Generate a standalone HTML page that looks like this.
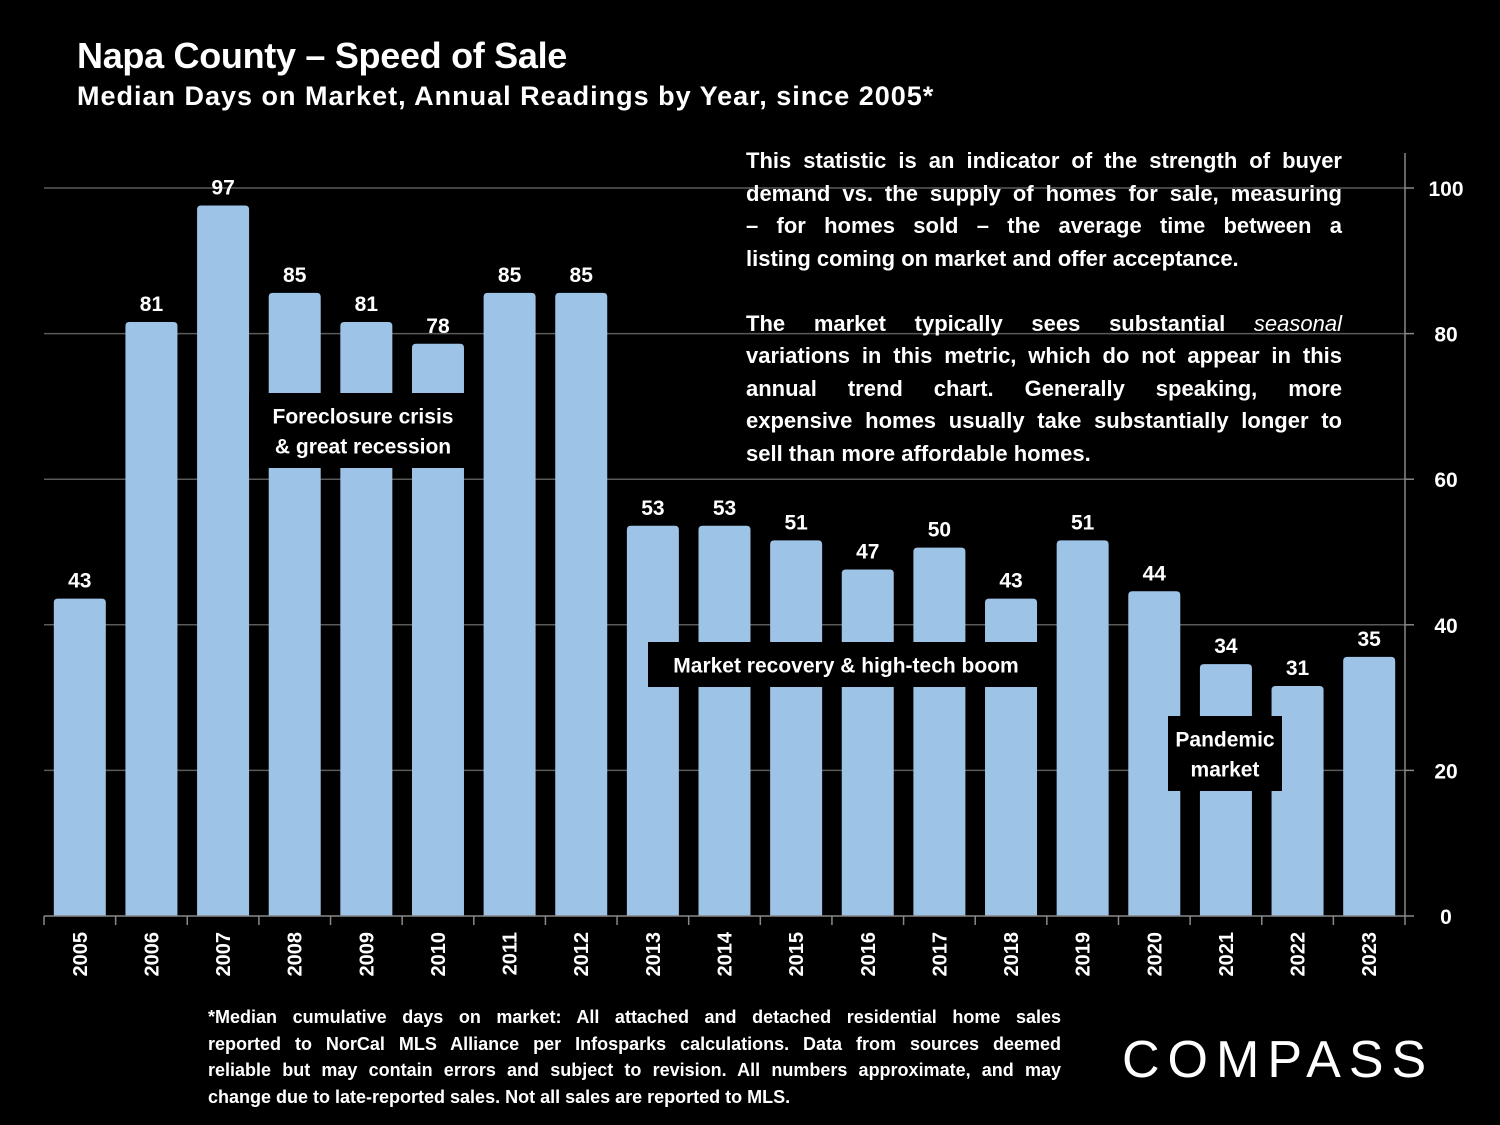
<!DOCTYPE html>
<html><head><meta charset="utf-8">
<style>
body{margin:0;background:#000;width:1500px;height:1125px;overflow:hidden;font-family:"Liberation Sans",sans-serif;color:#fff;position:relative}
.t{position:absolute;font-weight:bold}
#title{left:77px;top:35px;font-size:36px;letter-spacing:-0.3px}
#sub{left:77px;top:81px;font-size:27px;letter-spacing:1px}
#note{left:746px;top:145px;width:596px;font-size:22px;line-height:32.5px}
#foot{left:208px;top:1004px;width:853px;font-size:18px;line-height:26.5px}
.j{display:block;text-align:justify;text-align-last:justify;white-space:nowrap}
.l{display:block;white-space:nowrap}
#logo{left:1122px;top:1030px;font-size:52px;font-weight:normal;letter-spacing:8px}
</style></head><body>
<div class="t" id="title">Napa County – Speed of Sale</div>
<div class="t" id="sub">Median Days on Market, Annual Readings by Year, since 2005*</div>
<svg id="chart" width="1500" height="1125" style="position:absolute;left:0;top:0"></svg>
<div class="t" id="note"><span class="j">This statistic is an indicator of the strength of buyer</span><span class="j">demand vs. the supply of homes for sale, measuring</span><span class="j">– for homes sold – the average time between a</span><span class="l">listing coming on market and offer acceptance.</span><span class="l">&nbsp;</span><span class="j">The market typically sees substantial <i style="font-weight:normal">seasonal</i></span><span class="j">variations in this metric, which do not appear in this</span><span class="j">annual trend chart. Generally speaking, more</span><span class="j">expensive homes usually take substantially longer to</span><span class="l">sell than more affordable homes.</span></div>
<div class="t" id="foot"><span class="j">*Median cumulative days on market: All attached and detached residential home sales</span><span class="j">reported to NorCal MLS Alliance per Infosparks calculations. Data from sources deemed</span><span class="j">reliable but may contain errors and subject to revision. All numbers approximate, and may</span><span class="l">change due to late-reported sales. Not all sales are reported to MLS.</span></div>
<div class="t" id="logo">COMPASS</div>
<script>
const years=["2005","2006","2007","2008","2009","2010","2011","2012","2013","2014","2015","2016","2017","2018","2019","2020","2021","2022","2023"];
const values=[43.6,81.6,97.6,85.6,81.6,78.6,85.6,85.6,53.6,53.6,51.6,47.6,50.6,43.6,51.6,44.6,34.6,31.6,35.6];
const valueLabels=["43","81","97","85","81","78","85","85","53","53","51","47","50","43","51","44","34","31","35"];
const yTicks=[0,20,40,60,80,100];
const NS="http://www.w3.org/2000/svg";
const svg=document.getElementById('chart');
const x0=44,x1=1405,yBase=916,yTop=188,yMax=100;
const step=(x1-x0)/years.length;
function X(i){return x0+step*i;}
function Y(v){return yBase-(yBase-yTop)*v/yMax;}
function mk(tag,attrs,parent){const e=document.createElementNS(NS,tag);for(const k in attrs)e.setAttribute(k,attrs[k]);(parent||svg).appendChild(e);return e;}
yTicks.forEach(t=>{
  if(t>0){const g=mk('line',{x1:x0,x2:x1,y1:Y(t),y2:Y(t),stroke:'#5a5a5a','stroke-width':1.5});
  
  }
  mk('line',{x1:x1,x2:x1+9,y1:Y(t),y2:Y(t),stroke:'#888','stroke-width':1.5});
  const l=mk('text',{x:1446,y:Y(t)+8,'text-anchor':'middle',fill:'#fff','font-size':21,'font-weight':'bold'});
  l.textContent=t;
  
  
});
mk('line',{x1:x1,x2:x1,y1:153,y2:yBase,stroke:'#888','stroke-width':1.5});
const bw=52;
years.forEach((yr,i)=>{
  const cx=X(i)+step/2,v=values[i],top=Y(v);
  const b=mk('path',{d:`M${cx-bw/2},${yBase}V${top+4}Q${cx-bw/2},${top} ${cx-bw/2+4},${top}H${cx+bw/2-4}Q${cx+bw/2},${top} ${cx+bw/2},${top+4}V${yBase}Z`,fill:'#9dc3e6'});
  
  
  const vl=mk('text',{x:cx,y:top-11,'text-anchor':'middle',fill:'#fff','font-size':21,'font-weight':'bold'});
  vl.textContent=valueLabels[i];
  
  
  const xl=mk('text',{x:0,y:0,'text-anchor':'end',fill:'#fff','font-size':20,'font-weight':'bold',transform:`translate(${cx+7},932) rotate(-90)`});
  xl.textContent=yr;
  
  
});
for(let i=0;i<=years.length;i++){mk('line',{x1:X(i),x2:X(i),y1:yBase,y2:yBase+9,stroke:'#888','stroke-width':1.5});}
mk('line',{x1:x0,x2:x1,y1:yBase,y2:yBase,stroke:'#888','stroke-width':1.5});
function box(x,y,w,h,lines,name){
  const g=mk('g',{});
  
  
  mk('rect',{x:x,y:y,width:w,height:h,fill:'#000'},g);
  lines.forEach((s,k)=>{const t=mk('text',{x:x+w/2,y:y+h/2+8+(k-(lines.length-1)/2)*30,'text-anchor':'middle',fill:'#fff','font-size':21,'font-weight':'bold'},g);t.textContent=s;});
}
box(249,393,228,75,["Foreclosure crisis","& great recession"],'annotation-foreclosure');
box(648,642,396,45,["Market recovery & high-tech boom"],'annotation-recovery');
box(1168,716,114,75,["Pandemic","market"],'annotation-pandemic');
</script>
</body></html>
